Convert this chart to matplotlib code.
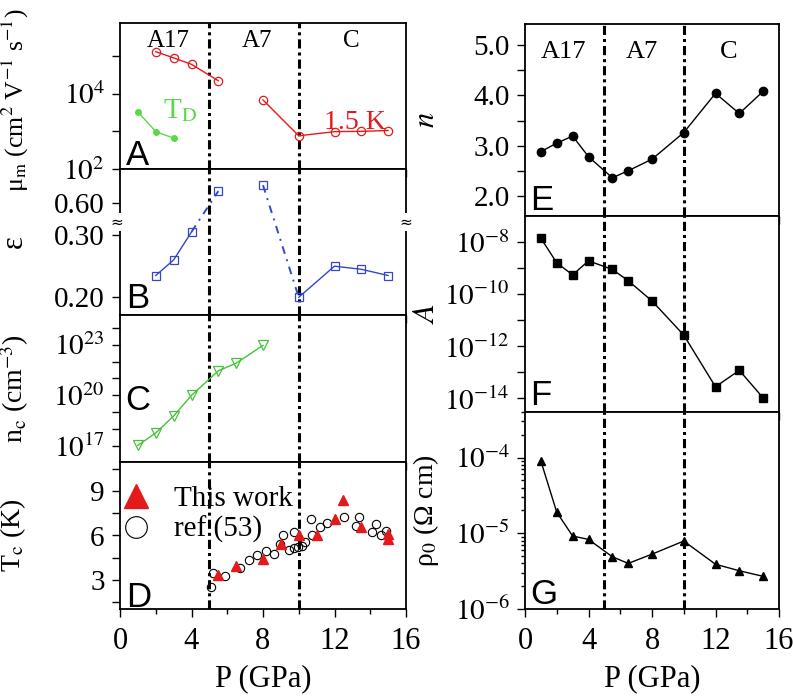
import numpy as np
import matplotlib
matplotlib.use('Agg')
import matplotlib.pyplot as plt
from matplotlib.ticker import FixedLocator, FuncFormatter, NullLocator, MultipleLocator, LogLocator, NullFormatter
from matplotlib.patches import Rectangle

plt.rcParams['font.family'] = 'Liberation Serif'
plt.rcParams['mathtext.fontset'] = 'stix'

# ---- data ----
# panel A : mobility
p_mu_a17 = [2, 3, 4, 5.5]
mu_a17 = [1.3e5, 8.9e4, 6.0e4, 2.2e4]
p_mu_c = [8, 10, 12, 13.5, 15]
mu_c = [6.8e3, 760, 980, 1000, 1050]
p_td = [1, 2, 3]
mu_td = [3300, 980, 660]

# panel B : epsilon
p_eps = [2, 3, 4, 5.5, 8, 10, 12, 13.5, 15]
eps = [0.235, 0.26, 0.305, 0.66, 0.69, 0.20, 0.25, 0.245, 0.235]

# panel C : n_c
p_nc = [1, 2, 3, 4, 5.5, 6.5, 8]
nc = [1.1e17, 6e17, 6e18, 1e20, 2.8e21, 8e21, 9e22]

# panel D : Tc
p_tc = [5.5, 6.5, 8, 9, 10, 11, 12, 12.5, 13.5, 15, 15]
tc = [3.3, 3.9, 4.4, 5.4, 6.0, 6.0, 7.1, 8.4, 6.6, 6.1, 5.75]
p_ref = [5.08, 5.18, 5.88, 6.7, 7.22, 7.69, 8.14, 8.6, 8.97, 9.14, 9.44, 9.74, 9.74,
         9.98, 10.2, 10.37, 10.67, 10.74, 11.17, 11.56, 12.51, 13.18, 13.35, 14.08,
         14.34, 14.62, 14.9]
tc_ref = [2.47, 3.48, 3.23, 3.82, 4.32, 4.66, 4.96, 4.75, 5.4, 6.03, 5.0, 6.26, 5.12,
          5.19, 5.3, 5.53, 7.15, 6.03, 6.56, 6.83, 7.25, 6.67, 7.27, 6.22, 6.77, 6.03, 6.3]

# panels E, F, G
p_r = [1, 2, 3, 4, 5.5, 6.5, 8, 10, 12, 13.5, 15]
n_exp = [2.88, 3.05, 3.19, 2.78, 2.36, 2.50, 2.73, 3.26, 4.04, 3.64, 4.08]
a_coef = [1.4e-8, 1.6e-9, 5.5e-10, 1.9e-9, 8.9e-10, 3.3e-10, 5.5e-11, 2.7e-12,
          2.8e-14, 1.2e-13, 1.05e-14]
rho0 = [9e-5, 1.9e-5, 9.2e-6, 8.3e-6, 4.9e-6, 4.0e-6, 5.3e-6, 7.9e-6, 3.9e-6, 3.2e-6, 2.7e-6]

phases = ['A17', 'A7', 'C']

red = '#e31a1c'
blue = '#3347c8'
green = '#44c23a'
green2 = '#5ad84a'

W, H = 793, 699
fig = plt.figure(figsize=(W / 100, H / 100), dpi=100)


def px_axes(x0, y0, x1, y1):
    return fig.add_axes([x0 / W, 1 - y1 / H, (x1 - x0) / W, (y1 - y0) / H])


dashdot = (0, (3, 1.3, 1, 1.3))


def style(ax, bottom=False):
    ax.set_xlim(0, 16)
    ax.xaxis.set_major_locator(MultipleLocator(4))
    ax.xaxis.set_minor_locator(MultipleLocator(2))
    ax.tick_params(which='both', direction='out', top=False, right=False, width=1,
                   labelsize=21, pad=5)
    ax.tick_params(which='major', length=6)
    ax.tick_params(which='minor', length=3.5)
    ax.tick_params(axis='x', which='major', pad=7, labelsize=22)
    if not bottom:
        ax.tick_params(axis='x', labelbottom=False)
    for s in ax.spines.values():
        s.set_linewidth(1.3)
    for xv in (5, 10):
        ax.axvline(xv, color='k', lw=2.2, linestyle=dashdot, zorder=1)


def panel_letter(ax, s, y):
    ax.text(0.02, y, s, transform=ax.transAxes, fontsize=25, family='Liberation Sans',
            va='baseline', ha='left')


def exp_fmt(show):
    def f(v, pos):
        e = int(round(np.log10(v)))
        return r'$10^{%d}$' % e if e in show else ''
    return FuncFormatter(f)


# ---- left column ----
axA = px_axes(120, 23, 406, 169)
axB = px_axes(120, 169, 406, 315)
axC = px_axes(120, 315, 406, 462)
axD = px_axes(120, 462, 406, 609)

# A
style(axA)
axA.set_yscale('log')
axA.set_ylim(1e2, 7.5e5)
axA.yaxis.set_major_locator(FixedLocator([1e2, 1e3, 1e4, 1e5]))
axA.yaxis.set_major_formatter(exp_fmt((2, 4)))
axA.yaxis.set_minor_locator(NullLocator())
axA.plot(p_mu_a17, mu_a17, '-o', color=red, mfc='none', ms=6, lw=1, mew=0.9)
axA.plot(p_mu_c, mu_c, '-o', color=red, mfc='none', ms=6, lw=1, mew=0.9)
axA.plot(p_td, mu_td, '-o', color=green2, ms=4, lw=1)
for xp, lab in zip([2.7, 7.64, 12.94], phases):
    axA.text(xp, 0.88, lab, transform=axA.get_xaxis_transform(), ha='center', va='center', fontsize=18)
axA.text(2.4, 0.40, r'T$_\mathrm{D}$', transform=axA.get_xaxis_transform(), color=green2,
         fontsize=21, va='center', ha='left')
axA.text(11.4, 0.32, '1.5 K', transform=axA.get_xaxis_transform(), color=red,
         fontsize=20, va='center', ha='left')
panel_letter(axA, 'A', 0.03)
axA.set_ylabel(r'μ$_\mathrm{m}$ (cm$^{2}$ V$^{-1}$ s$^{-1}$)', fontsize=18.5)
axA.yaxis.set_label_coords(-0.31, 0.47)

# B : broken epsilon axis
xp_b = [-1, 0.32, 0.52, 5]
fp_b = [-745.8, 74.8, 78.8, 78.8 + 4.48 * 196]


def fwd(v):
    return np.interp(v, xp_b, fp_b)


def inv(v):
    return np.interp(v, fp_b, xp_b)


style(axB)
axB.set_yscale('function', functions=(fwd, inv))
axB.set_ylim(0.1716, 0.7725)
axB.yaxis.set_major_locator(FixedLocator([0.2, 0.3, 0.6]))
axB.yaxis.set_major_formatter(FuncFormatter(lambda v, p: '%.2f' % v))
axB.yaxis.set_minor_locator(NullLocator())
pe = np.array(p_eps)
ee = np.array(eps)
axB.plot(pe[0:3], ee[0:3], '-', color=blue, lw=1)
axB.plot(pe[2:4], ee[2:4], color=blue, lw=1.4, linestyle=(0, (4, 3, 1, 3)))
axB.plot(pe[4:6], ee[4:6], color=blue, lw=1.4, linestyle=(0, (4, 3, 1, 3)))
axB.plot(pe[5:], ee[5:], '-', color=blue, lw=1)
axB.plot(pe, ee, 's', color=blue, mfc='none', ms=6, mew=0.9, zorder=3)
for xs in (0, 1):
    axB.add_patch(Rectangle((xs - 0.015, 0.575), 0.03, 0.124, transform=axB.transAxes,
                            facecolor='white', edgecolor='none', clip_on=False, zorder=5))
axB.text(-0.01, 0.635, '≈', transform=axB.transAxes, ha='center', va='center',
         fontsize=11, zorder=6, family='DejaVu Sans')
axB.text(1.0, 0.635, '≈', transform=axB.transAxes, ha='center', va='center',
         fontsize=11, zorder=6, family='DejaVu Sans')
panel_letter(axB, 'B', 0.05)
axB.set_ylabel('ε', fontsize=22)
axB.yaxis.set_label_coords(-0.32, 0.5)

# C
style(axC)
axC.set_yscale('log')
axC.set_ylim(10 ** 16.06, 10 ** 24.75)
axC.yaxis.set_major_locator(FixedLocator([10.0 ** k for k in range(16, 25)]))
axC.yaxis.set_major_formatter(exp_fmt((17, 20, 23)))
axC.yaxis.set_minor_locator(NullLocator())
axC.plot(p_nc, nc, '-v', color=green, mfc='none', ms=7, mew=0.9, lw=1)
panel_letter(axC, 'C', 0.355)
axC.set_ylabel(r'n$_\mathrm{c}$ (cm$^{-3}$)', fontsize=20)
axC.yaxis.set_label_coords(-0.31, 0.5)

# D
style(axD, bottom=True)
axD.set_ylim(1, 11)
axD.yaxis.set_major_locator(FixedLocator([3, 6, 9]))
axD.yaxis.set_minor_locator(FixedLocator([1.5, 4.5, 7.5, 10.5]))
axD.tick_params(axis='y', which='minor', length=6)
axD.plot(p_tc, tc, '^', color=red, ms=6.5, zorder=4, label='This work')
axD.plot(p_ref, tc_ref, 'o', color='k', mfc='none', ms=6, mew=0.8, zorder=3, label='ref (53)')
axD.legend(loc='upper left', bbox_to_anchor=(-0.055, 0.96), frameon=False, markerscale=2.6,
           fontsize=21, handlelength=1, handletextpad=0.8, labelspacing=0.15, borderaxespad=0.2)
panel_letter(axD, 'D', 0.015)
axD.set_ylabel(r'T$_\mathrm{c}$ (K)', fontsize=20)
axD.yaxis.set_label_coords(-0.32, 0.5)
axD.set_xlabel('P (GPa)', fontsize=22, labelpad=6)

# ---- right column ----
axE = px_axes(525, 24, 779, 216)
axF = px_axes(525, 216, 779, 412)
axG = px_axes(525, 412, 779, 609)

style(axE)
axE.set_ylim(1.6, 5.42)
axE.yaxis.set_major_locator(MultipleLocator(1))
axE.yaxis.set_minor_locator(MultipleLocator(0.5))
axE.yaxis.set_major_formatter(FuncFormatter(lambda v, p: '%.1f' % v))
axE.tick_params(axis='y', which='minor', length=6)
axE.plot(p_r, n_exp, '-o', color='k', ms=6, lw=1)
for xp, lab in zip([2.41, 7.35, 12.8], phases):
    axE.text(xp, 0.856, lab, transform=axE.get_xaxis_transform(), ha='center', va='center', fontsize=19)
panel_letter(axE, 'E', 0.03)
axE.set_ylabel(r'$n$', fontsize=22)
axE.yaxis.set_label_coords(-0.33, 0.5)

style(axF)
axF.set_yscale('log')
axF.set_ylim(10 ** -14.52, 10 ** -7.0)
axF.yaxis.set_major_locator(FixedLocator([10.0 ** k for k in range(-14, -7)]))
axF.yaxis.set_major_formatter(exp_fmt((-8, -10, -12, -14)))
axF.yaxis.set_minor_locator(NullLocator())
axF.plot(p_r, a_coef, '-s', color='k', ms=5.5, lw=1)
panel_letter(axF, 'F', 0.036)
axF.set_ylabel(r'$A$', fontsize=22)
axF.yaxis.set_label_coords(-0.33, 0.5)

style(axG, bottom=True)
axG.set_yscale('log')
axG.set_ylim(1e-6, 4e-4)
axG.yaxis.set_major_locator(FixedLocator([1e-6, 1e-5, 1e-4]))
axG.yaxis.set_major_formatter(exp_fmt((-4, -5, -6)))
axG.yaxis.set_minor_locator(LogLocator(base=10, subs=np.arange(2, 10)))
axG.yaxis.set_minor_formatter(NullFormatter())
axG.tick_params(axis='y', which='minor', length=3)
axG.plot(p_r, rho0, '-^', color='k', ms=6, lw=1)
panel_letter(axG, 'G', 0.025)
axG.set_ylabel(r'ρ$_0$ (Ω cm)', fontsize=20)
axG.yaxis.set_label_coords(-0.33, 0.5)
axG.set_xlabel('P (GPa)', fontsize=22, labelpad=6)

fig.savefig('out.png', dpi=100)
